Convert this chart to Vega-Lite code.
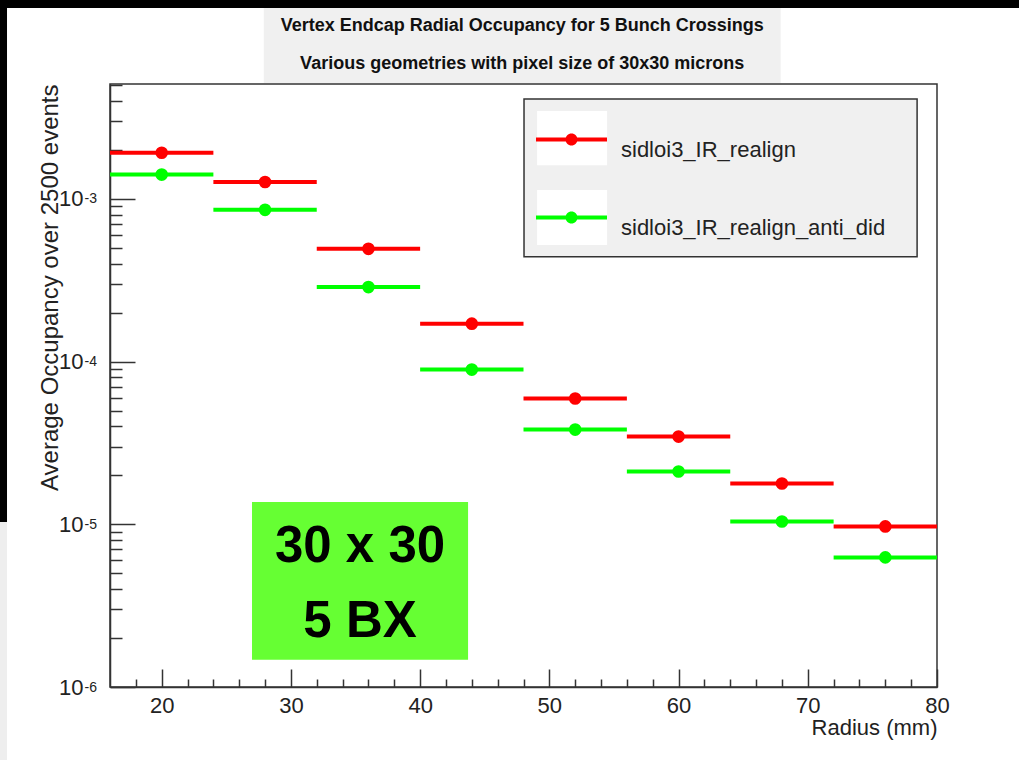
{
  "$schema": "https://vega.github.io/schema/vega-lite/v6.json",
  "width": 827,
  "height": 603,
  "autosize": {"type": "none"},
  "padding": {"left": 110, "top": 84, "right": 82, "bottom": 73},
  "background": "white",
  "config": {
    "view": {"stroke": "#333", "strokeWidth": 1.5},
    "font": "Liberation Sans",
    "axis": {
      "grid": false,
      "domainColor": "#333",
      "domainWidth": 1.5,
      "tickColor": "#333",
      "tickWidth": 1.5,
      "labelColor": "#222",
      "labelFont": "Liberation Sans",
      "labelFlush": false,
      "labelOverlap": false,
      "titleFont": "Liberation Sans",
      "titleColor": "#222",
      "titleFontWeight": "normal"
    },
    "legend": {
      "orient": "none",
      "legendX": 426,
      "legendY": 20,
      "title": null,
      "padding": 0,
      "symbolType": "M-1,-0.056H1V0.056H-1Z M0.17,0A0.17,0.17,0,1,1,-0.17,0A0.17,0.17,0,1,1,0.17,0Z",
      "symbolSize": 5041,
      "symbolStrokeWidth": 0,
      "symbolOpacity": 1,
      "labelFont": "Liberation Sans",
      "labelFontSize": 22,
      "labelColor": "#222",
      "labelBaseline": "top",
      "labelOffset": 14,
      "labelLimit": 400,
      "rowPadding": 21
    }
  },
  "data": {
    "values": [
      {"radius": 20, "rmin": 16, "rmax": 24, "occupancy": 0.00192, "geometry": "sidloi3_IR_realign"},
      {"radius": 28, "rmin": 24, "rmax": 32, "occupancy": 0.00127, "geometry": "sidloi3_IR_realign"},
      {"radius": 36, "rmin": 32, "rmax": 40, "occupancy": 0.000493, "geometry": "sidloi3_IR_realign"},
      {"radius": 44, "rmin": 40, "rmax": 48, "occupancy": 0.000171, "geometry": "sidloi3_IR_realign"},
      {"radius": 52, "rmin": 48, "rmax": 56, "occupancy": 0.0000593, "geometry": "sidloi3_IR_realign"},
      {"radius": 60, "rmin": 56, "rmax": 64, "occupancy": 0.0000346, "geometry": "sidloi3_IR_realign"},
      {"radius": 68, "rmin": 64, "rmax": 72, "occupancy": 0.0000178, "geometry": "sidloi3_IR_realign"},
      {"radius": 76, "rmin": 72, "rmax": 80, "occupancy": 0.0000097, "geometry": "sidloi3_IR_realign"},
      {"radius": 20, "rmin": 16, "rmax": 24, "occupancy": 0.00141, "geometry": "sidloi3_IR_realign_anti_did"},
      {"radius": 28, "rmin": 24, "rmax": 32, "occupancy": 0.000856, "geometry": "sidloi3_IR_realign_anti_did"},
      {"radius": 36, "rmin": 32, "rmax": 40, "occupancy": 0.000287, "geometry": "sidloi3_IR_realign_anti_did"},
      {"radius": 44, "rmin": 40, "rmax": 48, "occupancy": 0.0000893, "geometry": "sidloi3_IR_realign_anti_did"},
      {"radius": 52, "rmin": 48, "rmax": 56, "occupancy": 0.0000382, "geometry": "sidloi3_IR_realign_anti_did"},
      {"radius": 60, "rmin": 56, "rmax": 64, "occupancy": 0.0000211, "geometry": "sidloi3_IR_realign_anti_did"},
      {"radius": 68, "rmin": 64, "rmax": 72, "occupancy": 0.0000104, "geometry": "sidloi3_IR_realign_anti_did"},
      {"radius": 76, "rmin": 72, "rmax": 80, "occupancy": 0.00000626, "geometry": "sidloi3_IR_realign_anti_did"}
    ]
  },
  "layer": [
    {
      "data": {"values": [{}]},
      "mark": {"type": "rect", "fill": "#000000"},
      "encoding": {
        "x": {"datum": 0, "type": "quantitative", "axis": null},
        "x2": {"datum": 100},
        "y": {"datum": 1, "type": "quantitative", "axis": null},
        "y2": {"datum": 0.01489}
      }
    },
    {
      "data": {"values": [{}]},
      "mark": {"type": "rect", "fill": "#000000"},
      "encoding": {
        "x": {"datum": 0, "type": "quantitative", "axis": null},
        "x2": {"datum": 8.03},
        "y": {"datum": 1, "type": "quantitative", "axis": null},
        "y2": {"datum": 0.00001033}
      }
    },
    {
      "data": {"values": [{}]},
      "mark": {"type": "rect", "fill": "#eeeeee"},
      "encoding": {
        "x": {"datum": 0, "type": "quantitative", "axis": null},
        "x2": {"datum": 8.03},
        "y": {"datum": 0.00001033, "type": "quantitative", "axis": null},
        "y2": {"datum": 0.00000001}
      }
    },
    {
      "data": {"values": [{}]},
      "mark": {"type": "rect", "fill": "#f0f0f0"},
      "encoding": {
        "x": {"datum": 27.9, "type": "quantitative", "axis": null},
        "x2": {"datum": 67.9},
        "y": {"datum": 0.01489, "type": "quantitative", "axis": null},
        "y2": {"datum": 0.00515}
      }
    },
    {
      "data": {"values": [{"t": "Vertex Endcap Radial Occupancy for 5 Bunch Crossings"}]},
      "mark": {"type": "text", "font": "Liberation Sans", "fontWeight": "bold", "fontSize": 18, "align": "center", "baseline": "middle", "color": "#111"},
      "encoding": {
        "x": {"datum": 47.9, "type": "quantitative", "axis": null},
        "y": {"datum": 0.01156, "type": "quantitative", "axis": null},
        "text": {"field": "t"}
      }
    },
    {
      "data": {"values": [{"t": "Various geometries with pixel size of 30x30 microns"}]},
      "mark": {"type": "text", "font": "Liberation Sans", "fontWeight": "bold", "fontSize": 18, "align": "center", "baseline": "middle", "color": "#111"},
      "encoding": {
        "x": {"datum": 47.9, "type": "quantitative", "axis": null},
        "y": {"datum": 0.00675, "type": "quantitative", "axis": null},
        "text": {"field": "t"}
      }
    },
    {
      "data": {"values": [{}]},
      "mark": {"type": "rect", "fill": "#f0f0f0", "stroke": "#333", "strokeWidth": 1.5},
      "encoding": {
        "x": {"datum": 48.04, "type": "quantitative", "axis": null},
        "x2": {"datum": 78.46},
        "y": {"datum": 0.00411, "type": "quantitative", "axis": null},
        "y2": {"datum": 0.00044}
      }
    },
    {
      "data": {"values": [{"top": 0.00347, "bottom": 0.00161}, {"top": 0.001135, "bottom": 0.000521}]},
      "mark": {"type": "rect", "fill": "#ffffff"},
      "encoding": {
        "x": {"datum": 49.05, "type": "quantitative", "axis": null},
        "x2": {"datum": 54.47},
        "y": {"field": "top", "type": "quantitative", "axis": null},
        "y2": {"field": "bottom"}
      }
    },
    {
      "data": {"values": [{}]},
      "mark": {"type": "rect", "fill": "#66ff33"},
      "encoding": {
        "x": {"datum": 26.99, "type": "quantitative", "axis": null},
        "x2": {"datum": 43.71},
        "y": {
          "datum": 0.0000137,
          "type": "quantitative",
          "axis": {
            "orient": "left",
            "values": [0.000001, 0.00001, 0.0001, 0.001],
            "labelExpr": "'-' + format(-round(log(datum.value) / LN10), 'd')",
            "ticks": false,
            "domain": false,
            "labelPadding": 26,
            "labelAlign": "left",
            "labelFontSize": 14,
            "labelDy": -11,
            "title": null
          }
        },
        "y2": {"datum": 0.00000147}
      }
    },
    {
      "data": {"values": [{"t": "30 x 30", "pos": 0.00000586}, {"t": "5 BX", "pos": 0.00000203}]},
      "mark": {"type": "text", "font": "Liberation Sans", "fontWeight": "bold", "fontSize": 51, "align": "center", "baseline": "alphabetic", "color": "#000000"},
      "encoding": {
        "x": {"datum": 35.35, "type": "quantitative", "axis": null},
        "y": {"field": "pos", "type": "quantitative", "axis": null},
        "text": {"field": "t"}
      }
    },
    {
      "mark": {"type": "rule", "strokeWidth": 4},
      "encoding": {
        "x": {
          "field": "rmin",
          "type": "quantitative",
          "scale": {"domain": [16, 80], "nice": false, "zero": false},
          "axis": {
            "orient": "bottom",
            "values": [20, 30, 40, 50, 60, 70, 80],
            "tickSize": -18,
            "labelPadding": 26,
            "labelFontSize": 22,
            "title": "Radius (mm)",
            "titleFontSize": 22,
            "titleAnchor": "end",
            "titleBaseline": "alphabetic",
            "titleY": 47
          }
        },
        "x2": {"field": "rmax"},
        "y": {
          "field": "occupancy",
          "type": "quantitative",
          "scale": {"type": "log", "domain": [0.000001, 0.00508], "nice": false},
          "axis": {
            "orient": "left",
            "values": [0.000001, 0.00001, 0.0001, 0.001],
            "labelExpr": "'10'",
            "tickSize": -25,
            "labelPadding": 52,
            "labelFontSize": 22,
            "title": "Average Occupancy over 2500 events",
            "titleFontSize": 24,
            "titleAnchor": "end",
            "titleBaseline": "alphabetic",
            "titleX": -53
          }
        },
        "color": {
          "field": "geometry",
          "type": "nominal",
          "scale": {"domain": ["sidloi3_IR_realign", "sidloi3_IR_realign_anti_did"], "range": ["#ff0000", "#00ff00"]}
        }
      }
    },
    {
      "mark": {"type": "point", "filled": true, "size": 160, "opacity": 1},
      "encoding": {
        "x": {
          "field": "radius",
          "type": "quantitative",
          "axis": {
            "orient": "bottom",
            "values": [18, 22, 24, 26, 28, 32, 34, 36, 38, 42, 44, 46, 48, 52, 54, 56, 58, 62, 64, 66, 68, 72, 74, 76, 78],
            "tickSize": -8,
            "labels": false,
            "domain": false,
            "title": null
          }
        },
        "y": {
          "field": "occupancy",
          "type": "quantitative",
          "axis": {
            "orient": "left",
            "values": [0.000002, 0.000003, 0.000004, 0.000005, 0.000006, 0.000007, 0.000008, 0.000009,
                       0.00002, 0.00003, 0.00004, 0.00005, 0.00006, 0.00007, 0.00008, 0.00009,
                       0.0002, 0.0003, 0.0004, 0.0005, 0.0006, 0.0007, 0.0008, 0.0009,
                       0.002, 0.003, 0.004, 0.005],
            "tickSize": -12,
            "labels": false,
            "domain": false,
            "title": null
          }
        },
        "color": {"field": "geometry", "type": "nominal"}
      }
    }
  ],
  "resolve": {"axis": {"x": "independent", "y": "independent"}}
}
